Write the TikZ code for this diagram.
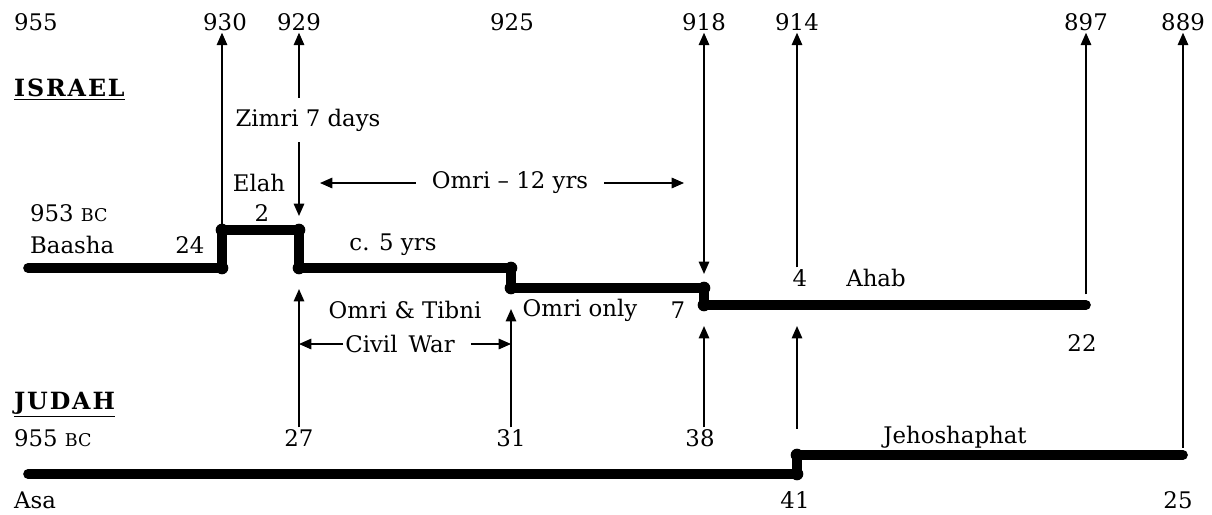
\documentclass[tikz,border=0pt]{standalone}
\usepackage{fontspec}
\setmainfont{DejaVu Serif}
\usetikzlibrary{positioning,arrows.meta}

\begin{document}
\begin{tikzpicture}
		[x=0.02cm,y=-0.02cm,
		txt/.style={inner sep=1pt,font=\fontsize{13}{15}\selectfont},
		head/.style={inner sep=1pt,anchor=west,font=\fontsize{13.5}{15}\selectfont\bfseries\addfontfeatures{LetterSpace=8}},
		reign/.style={line width=5.5pt,line cap=round,line join=round},
		marker/.style={-{Triangle[length=7pt,width=6pt]},line width=0.7pt},
		twoway/.style={{Triangle[length=7pt,width=6pt]}-{Triangle[length=7pt,width=6pt]},line width=0.7pt}]
		\useasboundingbox (0,0) rectangle (1212,514);
		\newcommand{\bcsc}{{\fontsize{10}{12}\selectfont BC}}

		\node [txt,anchor=west] (y955) at (12,22) {955};
		\node [txt] (y930) at (225,22) {930};
		\node [txt] (y929) at (299,22) {929};
		\node [txt] (y925) at (512,22) {925};
		\node [txt] (y918) at (704,22) {918};
		\node [txt] (y914) at (797,22) {914};
		\node [txt] (y897) at (1086,22) {897};
		\node [txt] (y889) at (1183,22) {889};

		\node [head] (israel) at (12,90) {\underline{ISRAEL}};
		\node [head] (judah) at (12,405) {\underline{JUDAH}};

		\coordinate (i0) at (28,268);
		\coordinate (i1) at (222,268);
		\coordinate (i2) at (222,230);
		\coordinate (i3) at (299,230);
		\coordinate (i4) at (299,268);
		\coordinate (i5) at (511,268);
		\coordinate (i6) at (511,288);
		\coordinate (i7) at (704,288);
		\coordinate (i8) at (704,305);
		\coordinate (i9) at (1086,305);
		\coordinate (ia) at (797,305);
		\coordinate (j0) at (28,474);
		\coordinate (j1) at (797,474);
		\coordinate (j2) at (797,455);
		\coordinate (j3) at (1183,455);

		\draw [reign] (i0) -- (i1) -- (i2) -- (i3) -- (i4) -- (i5) -- (i6) -- (i7) -- (i8) -- (i9);
		\draw [reign] (j0) -- (j1) -- (j2) -- (j3);
		\foreach \p in {i1,i2,i3,i4,i5,i6,i7,i8,j1,j2}
			\fill (\p) circle (3.6pt);

		\node [txt,anchor=west] (start) at (28,213) {953 \bcsc};
		\node [txt,anchor=west] (baasha) at (28,245) {Baasha};
		\node [txt] (n24) at (190,245) {24};
		\node [txt] (elah) at (259,183) {Elah};
		\node [txt] (n2) at (262,213) {2};
		\node [txt] (zimri) at (308,120) {Zimri 7 days};
		\node [txt] (omri) at (510,183) {Omri -- 12 yrs};
		\node [txt] (five) at (393,245) {c. 5 yrs};
		\node [txt] (n4) at (800,278) {4};
		\node [txt] (ahab) at (876,278) {Ahab};
		\node [txt] (tibni) at (405,310) {Omri \& Tibni};
		\node [txt] (civil) at (400,344) {Civil\, War};
		\node [txt] (only) at (580,310) {Omri only};
		\node [txt] (n7) at (678,310) {7};
		\node [txt] (n22) at (1082,343) {22};

		\node [txt,anchor=west] (jstart) at (12,438) {955 \bcsc};
		\node [txt] (y27) at (299,438) {27};
		\node [txt] (y31) at (511,438) {31};
		\node [txt] (y38) at (700,438) {38};
		\node [txt] (jehosh) at (955,437) {Jehoshaphat};
		\node [txt,anchor=west] (asa) at (12,500) {Asa};
		\node [txt] (n41) at (795,500) {41};
		\node [txt] (n25) at (1178,500) {25};

		\coordinate (oL) at (320,183);
		\coordinate (oR) at (684,183);

		\draw [marker] (i2) -- (i2 |- y930.south);
		\draw [marker,shorten <=5pt] (i3 |- zimri.north) -- (i3 |- y929.south);
		\draw [marker,shorten <=5pt,shorten >=8pt] (i3 |- zimri.south) -- (i3);
		\draw [marker,shorten <=8pt] (omri.west) -- (oL);
		\draw [marker,shorten <=8pt] (omri.east) -- (oR);
		\draw [twoway,shorten <=8pt] (i7) -- (i7 |- y918.south);
		\draw [marker] (n4.north -| y914) -- (y914.south);
		\draw [marker,shorten <=6pt] (i9) -- (i9 |- y897.south);
		\draw [marker,shorten <=4pt] (j3 -| y889) -- (y889.south);

		\draw [marker,shorten >=12pt] (y27.north -| i4) -- (i4);
		\draw [marker,shorten >=12pt] (y31.north -| i6) -- (i6);
		\draw [marker,shorten >=12pt] (y38.north -| i8) -- (i8);
		\draw [marker,shorten <=15pt,shorten >=12pt] (j2) -- (ia);
		\draw [marker] (civil.west) -- (civil.west -| i4);
		\draw [marker] ([xshift=8pt]civil.east) -- (civil.east -| i6);
	\end{tikzpicture}
\end{document}
